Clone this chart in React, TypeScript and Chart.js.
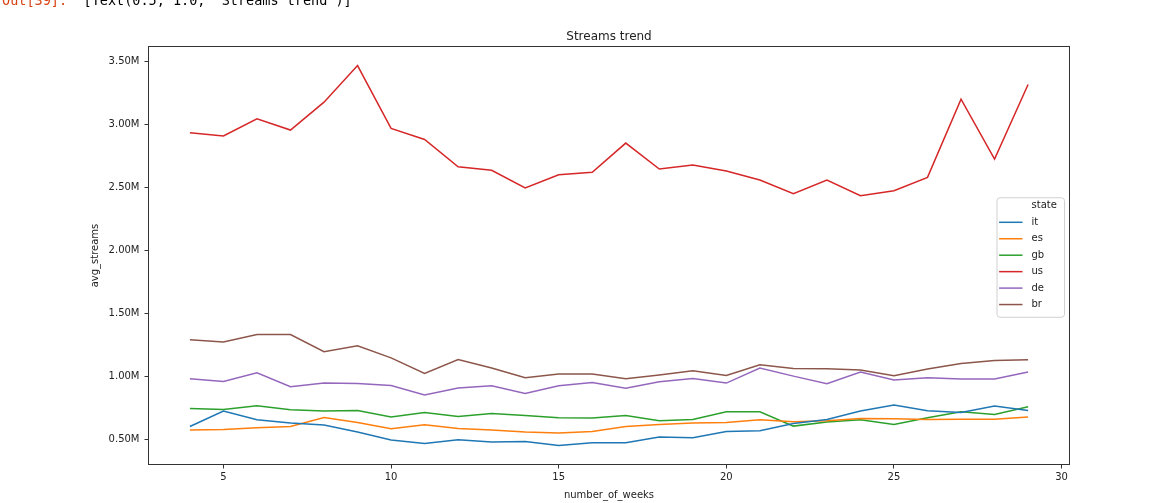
import React, { useEffect, useRef } from "react";
import { Chart, registerables } from "chart.js";

Chart.register(...registerables);

const weeks = [4, 5, 6, 7, 8, 9, 10, 11, 12, 13, 14, 15, 16, 17, 18, 19, 20, 21, 22, 23, 24, 25, 26, 27, 28, 29];

// avg_streams in millions
const itValues = [0.605, 0.727, 0.658, 0.632, 0.616, 0.561, 0.498, 0.471, 0.500, 0.482, 0.487, 0.455, 0.476, 0.476, 0.521, 0.516, 0.566, 0.571, 0.629, 0.661, 0.727, 0.775, 0.730, 0.716, 0.767, 0.732];
const esValues = [0.577, 0.582, 0.595, 0.605, 0.677, 0.637, 0.587, 0.619, 0.590, 0.577, 0.561, 0.553, 0.566, 0.605, 0.621, 0.632, 0.637, 0.658, 0.643, 0.651, 0.669, 0.666, 0.661, 0.663, 0.663, 0.680];
const gbValues = [0.748, 0.740, 0.769, 0.738, 0.727, 0.732, 0.680, 0.716, 0.685, 0.708, 0.693, 0.674, 0.672, 0.693, 0.651, 0.661, 0.722, 0.722, 0.608, 0.640, 0.658, 0.621, 0.674, 0.722, 0.700, 0.761];
const usValues = [2.931, 2.907, 3.042, 2.953, 3.174, 3.464, 2.966, 2.879, 2.662, 2.634, 2.494, 2.599, 2.618, 2.850, 2.644, 2.676, 2.628, 2.557, 2.449, 2.557, 2.433, 2.472, 2.578, 3.198, 2.723, 3.314];
const deValues = [0.983, 0.962, 1.031, 0.920, 0.949, 0.946, 0.930, 0.854, 0.909, 0.928, 0.867, 0.928, 0.954, 0.909, 0.959, 0.985, 0.949, 1.068, 1.004, 0.943, 1.036, 0.973, 0.991, 0.981, 0.981, 1.036];
const brValues = [1.292, 1.274, 1.334, 1.334, 1.197, 1.244, 1.149, 1.025, 1.136, 1.068, 0.991, 1.020, 1.020, 0.983, 1.012, 1.046, 1.009, 1.094, 1.065, 1.062, 1.052, 1.007, 1.060, 1.104, 1.128, 1.133];

const stateNames = ["it", "es", "gb", "us", "de", "br"];
const stateSeries = [itValues, esValues, gbValues, usValues, deValues, brValues];
const stateColors = ["#1f77b4", "#ff7f0e", "#2ca02c", "#d62728", "#9467bd", "#8c564b"];

const xTickValues = [5, 10, 15, 20, 25, 30];
const yTickValues = [0.5, 1.0, 1.5, 2.0, 2.5, 3.0, 3.5];

const FONT = "'DejaVu Sans', 'Liberation Sans', sans-serif";

const spinesPlugin = {
  id: "spines",
  afterDatasetsDraw(chart: any) {
    const { ctx, chartArea } = chart;
    ctx.save();
    ctx.strokeStyle = "#333333";
    ctx.lineWidth = 1;
    ctx.strokeRect(
      Math.round(chartArea.left) + 0.5,
      Math.round(chartArea.top) + 0.5,
      Math.round(chartArea.right - chartArea.left) - 1,
      Math.round(chartArea.bottom - chartArea.top) - 1
    );
    ctx.restore();
  },
};

const legendPlugin = {
  id: "mplLegend",
  afterDraw(chart: any) {
    const { ctx, chartArea } = chart;
    const w = 67.5;
    const h = 119.5;
    const right = chartArea.right - 6;
    const left = right - w;
    const top = (chartArea.top + chartArea.bottom) / 2 - h / 2 + 1.5;
    ctx.save();
    ctx.beginPath();
    ctx.roundRect(left + 0.5, top + 0.5, w, h, 3);
    ctx.fillStyle = "rgba(255,255,255,0.8)";
    ctx.fill();
    ctx.strokeStyle = "#d0d0d0";
    ctx.lineWidth = 1;
    ctx.stroke();
    ctx.font = `10px ${FONT}`;
    ctx.textBaseline = "middle";
    ctx.textAlign = "left";
    ctx.fillStyle = "#222222";
    const rowStep = 16.45;
    const firstRow = top + 8.6;
    ctx.fillText("state", left + 35, firstRow);
    chart.data.datasets.forEach((ds: any, i: number) => {
      const y = firstRow + (i + 1) * rowStep;
      ctx.beginPath();
      ctx.strokeStyle = ds.borderColor;
      ctx.lineWidth = 1.5;
      ctx.moveTo(left + 2.6, y);
      ctx.lineTo(left + 26, y);
      ctx.stroke();
      ctx.fillStyle = "#222222";
      ctx.fillText(ds.label, left + 35, y);
    });
    ctx.restore();
  },
};

const outputPromptPlugin = {
  id: "outputPrompt",
  beforeDraw(chart: any) {
    const { ctx } = chart;
    ctx.save();
    ctx.font = "13.5px 'DejaVu Sans Mono', monospace";
    ctx.textBaseline = "alphabetic";
    ctx.textAlign = "left";
    ctx.fillStyle = "#d84315";
    ctx.fillText("Out[39]:", 2, 5);
    ctx.fillStyle = "#000000";
    ctx.fillText("[Text(0.5, 1.0, 'Streams trend')]", 83.5, 5);
    ctx.restore();
  },
};

export default function App() {
  const canvasRef = useRef<HTMLCanvasElement | null>(null);

  useEffect(() => {
    if (!canvasRef.current) return;
    const datasets = stateNames.map((name, i) => ({
      label: name,
      data: weeks.map((wk, j) => ({ x: wk, y: stateSeries[i][j] })),
      borderColor: stateColors[i],
      backgroundColor: stateColors[i],
      borderWidth: 1.5,
      pointRadius: 0,
      pointHoverRadius: 0,
      tension: 0,
      fill: false,
    }));

    const chart = new Chart(canvasRef.current, {
      type: "line",
      data: { datasets },
      plugins: [outputPromptPlugin, spinesPlugin, legendPlugin],
      options: {
        animation: false,
        responsive: false,
        maintainAspectRatio: false,
        events: [],
        layout: { padding: { left: 0, right: 86, top: 0, bottom: 0 } },
        plugins: {
          legend: { display: false },
          tooltip: { enabled: false },
          title: {
            display: true,
            text: "Streams trend",
            fullSize: false,
            color: "#222222",
            font: { family: FONT, size: 12, weight: "normal", lineHeight: 1.2 },
            padding: { top: 29.2, bottom: 2.4 },
          },
        },
        scales: {
          x: {
            type: "linear",
            min: 2.75,
            max: 30.25,
            afterBuildTicks: (scale: any) => {
              scale.ticks = xTickValues.map((v) => ({ value: v }));
            },
            afterFit: (scale: any) => {
              scale.height = 38;
            },
            grid: {
              display: true,
              drawOnChartArea: false,
              drawTicks: true,
              tickLength: 3.5,
              color: "#333333",
              lineWidth: 1,
            },
            border: { display: false },
            ticks: {
              autoSkip: false,
              maxRotation: 0,
              padding: 3,
              color: "#222222",
              font: { family: FONT, size: 10 },
              callback: (v: any) => String(v),
            },
            title: {
              display: true,
              text: "number_of_weeks",
              color: "#222222",
              font: { family: FONT, size: 10, lineHeight: 1.2 },
              padding: { top: 0, bottom: 1.3 },
            },
          },
          y: {
            type: "linear",
            min: 0.3,
            max: 3.619,
            afterBuildTicks: (scale: any) => {
              scale.ticks = yTickValues.map((v) => ({ value: v }));
            },
            afterFit: (scale: any) => {
              scale.width = 148;
            },
            grid: {
              display: true,
              drawOnChartArea: false,
              drawTicks: true,
              tickLength: 3.5,
              color: "#333333",
              lineWidth: 1,
            },
            border: { display: false },
            ticks: {
              autoSkip: false,
              padding: 5,
              color: "#222222",
              font: { family: FONT, size: 10 },
              callback: (v: any) => Number(v).toFixed(2) + "M",
            },
            title: {
              display: true,
              text: "avg_streams",
              color: "#222222",
              font: { family: FONT, size: 10, lineHeight: 1.2 },
              padding: { top: 89, bottom: 0 },
            },
          },
        },
      },
    } as any);

    return () => {
      chart.destroy();
    };
  }, []);

  return (
    <div style={{ position: "absolute", left: 0, top: 0, width: 1156, height: 503, background: "#ffffff" }}>
      <canvas ref={canvasRef} width={1156} height={503} style={{ display: "block", width: 1156, height: 503 }} />
    </div>
  );
}
